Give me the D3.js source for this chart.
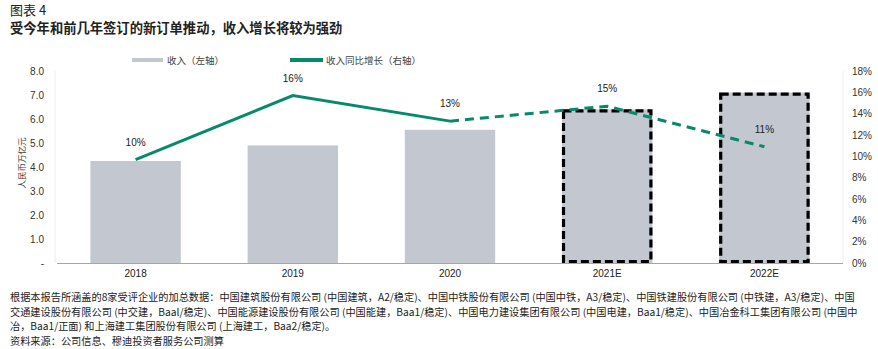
<!DOCTYPE html>
<html><head><meta charset="utf-8">
<script src="https://cdn.jsdelivr.net/npm/d3@7"></script>
<style>
body{margin:0;background:#fff;}
svg{display:block;font-family:"Liberation Sans",Arial,"Noto Sans CJK SC",sans-serif;}
.cjk{font-family:"Noto Sans CJK SC","Liberation Sans",sans-serif;}
</style></head>
<body>
<svg id="c" width="878" height="349"></svg>
<script>
const categories = ["2018","2019","2020","2021E","2022E"];
const revenue = [4.25, 4.9, 5.55, 6.4, 7.1];
const growth = [9.7, 15.7, 13.3, 14.7, 10.9];
const growthLabels = ["10%","16%","13%","15%","11%"];
const estimated = [false,false,false,true,true];
const leftTicks = [0,1,2,3,4,5,6,7,8];
const rightTicks = [0,2,4,6,8,10,12,14,16,18];
const footnotes = [
 "根据本报告所涵盖的8家受评企业的加总数据：中国建筑股份有限公司 (中国建筑，A2/稳定)、中国中铁股份有限公司 (中国中铁，A3/稳定)、中国铁建股份有限公司 (中铁建，A3/稳定)、中国",
 "交通建设股份有限公司 (中交建，Baal/稳定)、中国能源建设股份有限公司 (中国能建，Baa1/稳定)、中国电力建设集团有限公司 (中国电建，Baa1/稳定)、中国冶金科工集团有限公司 (中国中",
 "冶，Baa1/正面) 和上海建工集团股份有限公司 (上海建工，Baa2/稳定)。",
 "资料来源：公司信息、穆迪投资者服务公司测算"
];

const svg = d3.select("#c");
const L = 57, R = 843, T = 71, B = 263;
const x = d3.scaleBand().domain(categories).range([L, R]).paddingInner(0.425).paddingOuter(0.2125);
const yL = d3.scaleLinear().domain([0,8]).range([B,T]);
const yR = d3.scaleLinear().domain([0,18]).range([B,T]);

// titles
svg.append("text").attr("class","cjk").attr("x",10).attr("y",15).attr("font-size",13).attr("fill","#222").text("图表 4");
svg.append("text").attr("class","cjk").attr("x",10).attr("y",33).attr("font-size",13.3).attr("font-weight","bold").attr("fill","#222").text("受今年和前几年签订的新订单推动，收入增长将较为强劲");

// axes lines
svg.append("line").attr("x1",L-2).attr("x2",L-2).attr("y1",T).attr("y2",B).attr("stroke","#eeeeee");
svg.append("line").attr("x1",R).attr("x2",R).attr("y1",T).attr("y2",B).attr("stroke","#eeeeee");

// bars
svg.selectAll("rect.bar").data(categories).enter().append("rect").attr("class","bar")
  .attr("x",d=>x(d)).attr("width",x.bandwidth())
  .attr("y",(d,i)=>yL(revenue[i])).attr("height",(d,i)=>B-yL(revenue[i]))
  .attr("fill","#c3c7d0");
svg.selectAll("rect.est").data(categories.filter((d,i)=>estimated[i])).enter().append("rect").attr("class","est")
  .attr("x",d=>x(d)+1.5).attr("width",x.bandwidth()-3)
  .attr("y",d=>yL(revenue[categories.indexOf(d)])+1.5).attr("height",d=>B-yL(revenue[categories.indexOf(d)])-3)
  .attr("fill","none").attr("stroke","#000").attr("stroke-width",3.2).attr("stroke-dasharray","8,4");

// baseline
svg.append("line").attr("x1",L).attr("x2",R).attr("y1",B+0.5).attr("y2",B+0.5).attr("stroke","#a6a6a6");

// left axis
const la = svg.append("g").attr("transform",`translate(${L},0)`)
  .call(d3.axisLeft(yL).tickValues(leftTicks).tickSize(0).tickPadding(13).tickFormat(d=>d===0?"-":d3.format(".1f")(d)));
la.select(".domain").remove();
la.selectAll("text").attr("font-size",10).attr("fill","#333").attr("font-family","Liberation Sans, Arial, sans-serif");

// right axis
const ra = svg.append("g").attr("transform",`translate(${R},0)`)
  .call(d3.axisRight(yR).tickValues(rightTicks).tickSize(0).tickPadding(9).tickFormat(d=>d+"%"));
ra.select(".domain").remove();
ra.selectAll("text").attr("font-size",10).attr("fill","#333").attr("font-family","Liberation Sans, Arial, sans-serif");

// x axis
const xa = svg.append("g").attr("transform",`translate(0,${B})`)
  .call(d3.axisBottom(x).tickSize(0).tickPadding(7));
xa.select(".domain").remove();
xa.selectAll("text").attr("font-size",10).attr("fill","#222").attr("font-family","Liberation Sans, Arial, sans-serif");

// y axis title
svg.append("text").attr("class","cjk").attr("transform","translate(25,163) rotate(-90)").attr("text-anchor","middle")
  .attr("font-size",8.5).attr("fill","#444").text("人民币万亿元");

// growth line
const pts = categories.map((d,i)=>[x(d)+x.bandwidth()/2, yR(growth[i])]);
const line = d3.line();
svg.append("path").attr("d",line(pts.slice(0,3))).attr("fill","none").attr("stroke","#078a6c").attr("stroke-width",3);
svg.append("path").attr("d",line(pts.slice(2))).attr("fill","none").attr("stroke","#078a6c").attr("stroke-width",3).attr("stroke-dasharray","9,6");

// labels
svg.selectAll("text.gl").data(categories).enter().append("text").attr("class","gl")
  .attr("x",(d,i)=>pts[i][0]).attr("y",(d,i)=>pts[i][1]-14).attr("text-anchor","middle")
  .attr("font-size",10).attr("fill","#222").text((d,i)=>growthLabels[i]);

// legend
svg.append("rect").attr("x",132).attr("y",58).attr("width",31).attr("height",4).attr("fill","#c3c7d0");
svg.append("text").attr("class","cjk").attr("x",167).attr("y",64).attr("font-size",9.5).attr("fill","#444").text("收入（左轴）");
svg.append("rect").attr("x",290).attr("y",58).attr("width",33).attr("height",4).attr("fill","#078a6c");
svg.append("text").attr("class","cjk").attr("x",326).attr("y",64).attr("font-size",9.5).attr("fill","#444").text("收入同比增长（右轴）");

// footnotes
svg.selectAll("text.fn").data(footnotes).enter().append("text").attr("class","fn cjk")
  .attr("x",10).attr("y",(d,i)=>301+i*14.5).attr("font-size",10.2).attr("fill","#222").text(d=>d);
</script>
</body></html>
